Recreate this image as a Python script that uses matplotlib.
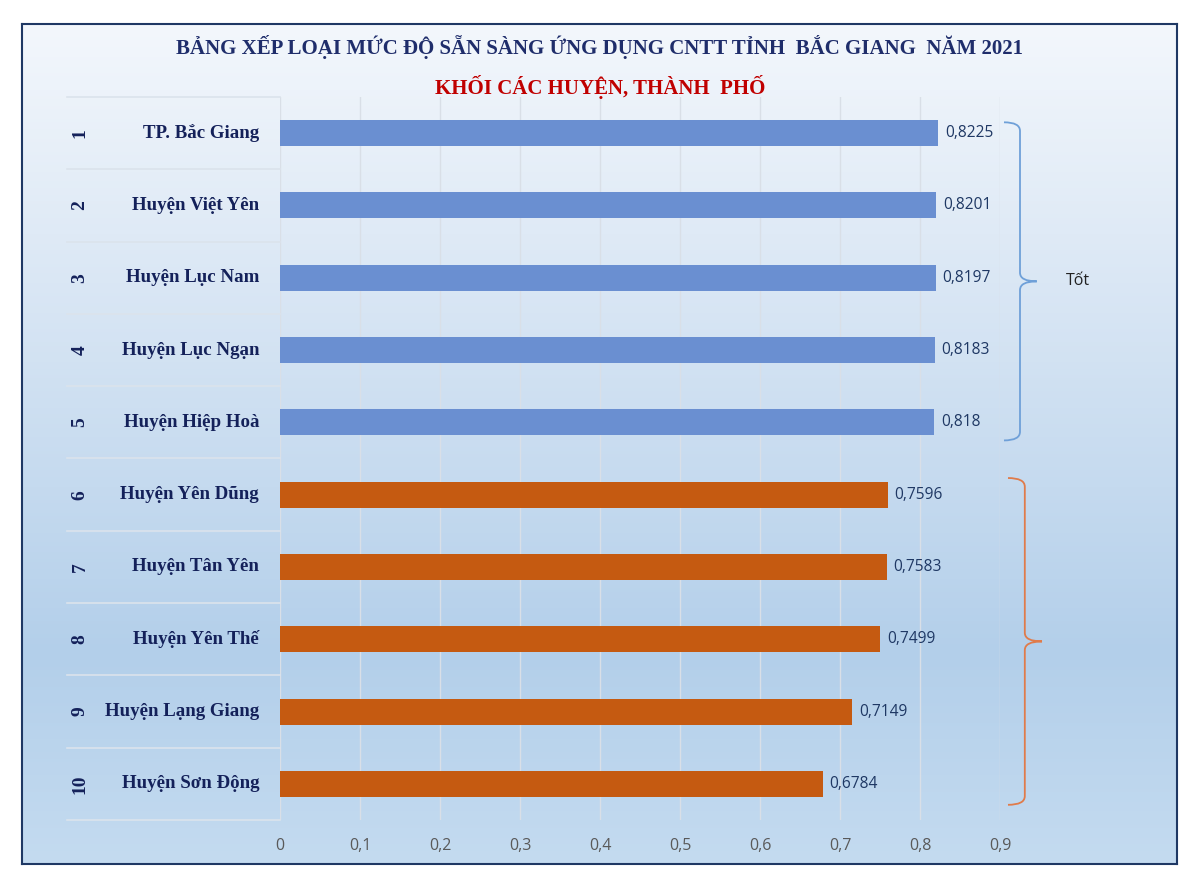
import matplotlib
matplotlib.use("Agg")
import matplotlib.pyplot as plt
import numpy as np
from matplotlib.path import Path
from matplotlib.patches import PathPatch
from matplotlib.colors import LinearSegmentedColormap
import matplotlib.transforms as mtransforms

# ---------------- data ----------------
ranks = ["1", "2", "3", "4", "5", "6", "7", "8", "9", "10"]
names = ["TP. Bắc Giang", "Huyện Việt Yên", "Huyện Lục Nam", "Huyện Lục Ngạn",
         "Huyện Hiệp Hoà", "Huyện Yên Dũng", "Huyện Tân Yên", "Huyện Yên Thế",
         "Huyện Lạng Giang", "Huyện Sơn Động"]
values = [0.8225, 0.8201, 0.8197, 0.8183, 0.818, 0.7596, 0.7583, 0.7499, 0.7149, 0.6784]
value_labels = ["0,8225", "0,8201", "0,8197", "0,8183", "0,818",
                "0,7596", "0,7583", "0,7499", "0,7149", "0,6784"]
groups = ["Tốt"] * 5 + ["Khá"] * 5
xticks = [0, 0.1, 0.2, 0.3, 0.4, 0.5, 0.6, 0.7, 0.8, 0.9]
xtick_labels = ["0", "0,1", "0,2", "0,3", "0,4", "0,5", "0,6", "0,7", "0,8", "0,9"]
title = "BẢNG XẾP LOẠI MỨC ĐỘ SẴN SÀNG ỨNG DỤNG CNTT TỈNH  BẮC GIANG  NĂM 2021"
subtitle = "KHỐI CÁC HUYỆN, THÀNH  PHỐ"
brace_label = "Tốt"

W, H = 1200, 893
fig = plt.figure(figsize=(W / 100, H / 100), dpi=100)
fig.patch.set_facecolor("white")

def fx(px):
    return px / W

def fy(py):
    return 1 - py / H

# ---------------- background gradient ----------------
bx0, bx1, by0, by1 = 22, 1177, 24, 864
bg = fig.add_axes([fx(bx0), fy(by1), fx(bx1 - bx0), fy(by0) - fy(by1)])
cmap = LinearSegmentedColormap.from_list(
    "bg", [(0.0, "#f3f7fc"), (0.25, "#dfeaf6"), (0.55, "#c5daef"),
           (0.75, "#b3cfea"), (1.0, "#c4dbf0")])
grad = np.linspace(0, 1, 256).reshape(-1, 1)
bg.imshow(grad, aspect="auto", cmap=cmap, extent=[0, 1, 1, 0])
bg.set_xlim(0, 1)
bg.set_ylim(1, 0)
bg.set_xticks([])
bg.set_yticks([])
for s in bg.spines.values():
    s.set_color("#1f3864")
    s.set_linewidth(1.5)
bg.set_zorder(0)

# ---------------- main axes ----------------
ax_l, ax_r, ax_t, ax_b = 280, 1000, 97, 820
ax = fig.add_axes([fx(ax_l), fy(ax_b), fx(ax_r - ax_l), fy(ax_t) - fy(ax_b)])
ax.patch.set_alpha(0)
ax.set_zorder(1)

y = np.arange(len(names))
colors = ["#6a8fd1" if g == "Tốt" else "#c55a11" for g in groups]
ax.barh(y, values, height=0.36, color=colors, zorder=3)

ax.set_xlim(0, 0.9)
ax.set_ylim(len(names) - 0.5, -0.5)
ax.set_xticks(xticks)
ax.set_xticklabels(xtick_labels, family=["Open Sans", "DejaVu Sans"], fontsize=11.5, color="#595959")
ax.tick_params(axis="x", length=0, pad=13)
ax.set_yticks([])
for s in ax.spines.values():
    s.set_visible(False)
ax.grid(axis="x", color="#d9dfe7", linewidth=1.0, zorder=1)
ax.set_axisbelow(True)

# value labels
for yi, v, lab in zip(y, values, value_labels):
    ax.annotate(lab, (v, yi), xytext=(5, 0), textcoords="offset points",
                ha="left", va="center", fontsize=11.2, color="#1f3864",
                family=["Open Sans", "DejaVu Sans"])

# left table: ranks & names
trans = mtransforms.blended_transform_factory(ax.transAxes, ax.transData)
name_x = (259 - ax_l) / (ax_r - ax_l)
rank_x = (80 - ax_l) / (ax_r - ax_l)
line_x0 = (67 - ax_l) / (ax_r - ax_l)
for yi, r, n in zip(y, ranks, names):
    ax.text(name_x, yi, n, transform=trans, ha="right", va="center",
            fontsize=13.6, fontweight="bold", color="#14215a",
            family=["Liberation Serif", "DejaVu Serif"])
    ax.text(rank_x, yi, r, transform=trans, ha="center", va="center",
            rotation=90, fontsize=14, fontweight="bold", color="#14215a",
            family=["Liberation Serif", "DejaVu Serif"])
for b in np.arange(-0.5, len(names) + 0.5, 1.0):
    ax.plot([line_x0, 0], [b, b], transform=trans, color="#dbe3ec",
            linewidth=1.2, clip_on=False, zorder=2)

# braces
def brace(ax, ytop, ybot, x0, xs, xtip, color):
    ymid = (ytop + ybot) / 2
    r = 0.12
    verts = [(x0, ytop), (xs, ytop), (xs, ytop + r),
             (xs, ymid - r),
             (xs, ymid), (xtip, ymid),
             (xs, ymid), (xs, ymid + r),
             (xs, ybot - r),
             (xs, ybot), (x0, ybot)]
    codes = [Path.MOVETO, Path.CURVE3, Path.CURVE3,
             Path.LINETO,
             Path.CURVE3, Path.CURVE3,
             Path.CURVE3, Path.CURVE3,
             Path.LINETO,
             Path.CURVE3, Path.CURVE3]
    p = PathPatch(Path(verts, codes), facecolor="none", edgecolor=color,
                  linewidth=1.3, clip_on=False, zorder=4)
    ax.add_patch(p)
    return ymid

ym1 = brace(ax, -0.15, 4.25, 0.905, 0.925, 0.946, "#6fa0d8")
brace(ax, 4.77, 9.29, 0.910, 0.931, 0.9525, "#e07b4a")
ax.text(0.9825, ym1, brace_label, ha="left", va="center", fontsize=11.5,
        color="#222222", family=["Open Sans", "DejaVu Sans"], clip_on=False)

# titles
fig.text(fx(600), fy(47), title, ha="center", va="center", fontsize=15,
         fontweight="bold", color="#1f2d6b", family=["Liberation Serif", "DejaVu Serif"])
fig.text(fx(600), fy(87), subtitle, ha="center", va="center", fontsize=15,
         fontweight="bold", color="#c00000", family=["Liberation Serif", "DejaVu Serif"])

fig.savefig("out.png", dpi=100, facecolor="white")
